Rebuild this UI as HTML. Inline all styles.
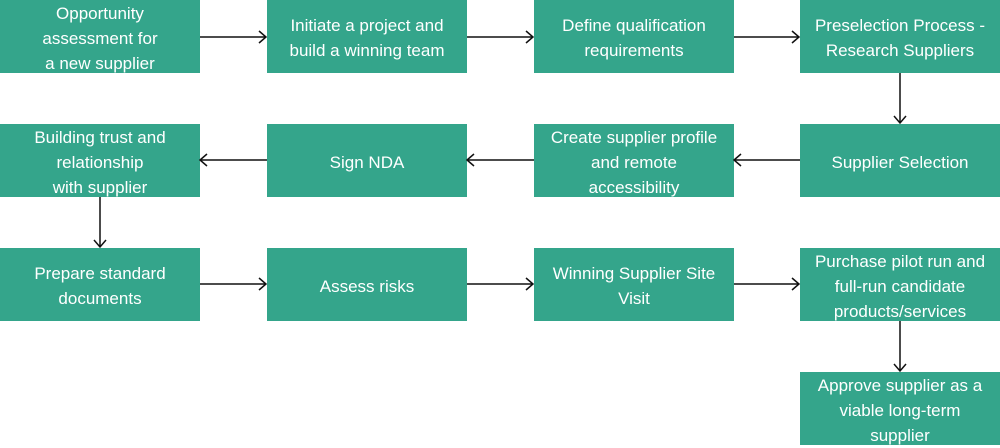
<!DOCTYPE html>
<html><head><meta charset="utf-8"><style>
body{margin:0;width:1000px;height:445px;background:#fff;position:relative;overflow:hidden;font-family:"Liberation Sans",sans-serif}
.b{position:absolute;width:200px;height:73px;box-sizing:border-box;padding-top:3px;background:#34a58b;color:#fff;display:flex;align-items:center;justify-content:center;text-align:center;font-size:17px;line-height:25px}
svg{position:absolute;left:0;top:0}
</style></head><body>
<div class="b" style="left:0;top:0">Opportunity<br>assessment for<br>a new supplier</div>
<div class="b" style="left:267px;top:0">Initiate a project and<br>build a winning team</div>
<div class="b" style="left:534px;top:0">Define qualification<br>requirements</div>
<div class="b" style="left:800px;top:0">Preselection Process -<br>Research Suppliers</div>
<div class="b" style="left:0;top:124px">Building trust and<br>relationship<br>with supplier</div>
<div class="b" style="left:267px;top:124px">Sign NDA</div>
<div class="b" style="left:534px;top:124px">Create supplier profile<br>and remote<br>accessibility</div>
<div class="b" style="left:800px;top:124px">Supplier Selection</div>
<div class="b" style="left:0;top:248px">Prepare standard<br>documents</div>
<div class="b" style="left:267px;top:248px">Assess risks</div>
<div class="b" style="left:534px;top:248px">Winning Supplier Site<br>Visit</div>
<div class="b" style="left:800px;top:248px">Purchase pilot run and<br>full-run candidate<br>products/services</div>
<div class="b" style="left:800px;top:372px">Approve supplier as a<br>viable long-term<br>supplier</div>
<svg width="1000" height="445" fill="none" stroke="#111" stroke-width="1.5">
<path d="M200 37H266M259 31l7 6-7 6"/>
<path d="M467 37H533M526 31l7 6-7 6"/>
<path d="M734 37H799M792 31l7 6-7 6"/>
<path d="M900 73V123M894 116l6 7 6-7"/>
<path d="M800 160H734M741 154l-7 6 7 6"/>
<path d="M534 160H467M474 154l-7 6 7 6"/>
<path d="M267 160H200M207 154l-7 6 7 6"/>
<path d="M100 197V247M94 240l6 7 6-7"/>
<path d="M200 284H266M259 278l7 6-7 6"/>
<path d="M467 284H533M526 278l7 6-7 6"/>
<path d="M734 284H799M792 278l7 6-7 6"/>
<path d="M900 321V371M894 364l6 7 6-7"/>
</svg>
</body></html>
